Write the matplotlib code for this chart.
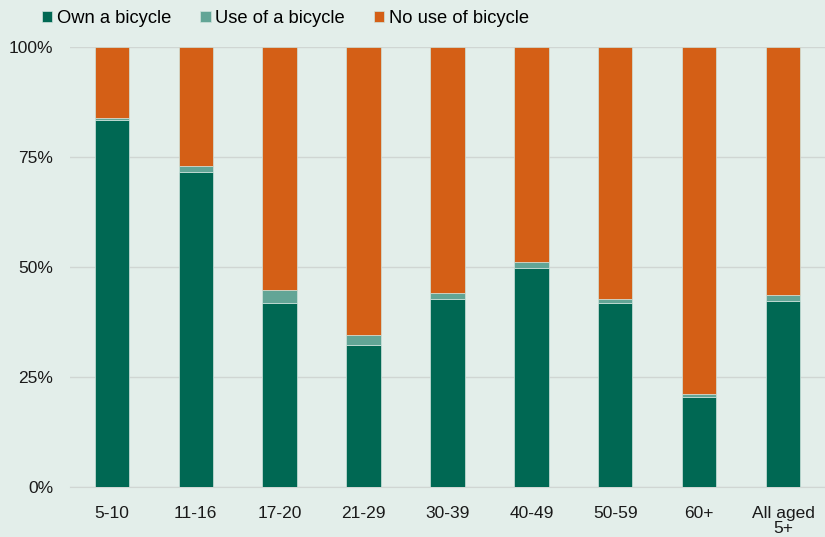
import numpy as np
import matplotlib
matplotlib.use("Agg")
from matplotlib import pyplot as plt
from matplotlib.ticker import PercentFormatter

# share of people by age group (%)
age_groups = ["5-10", "11-16", "17-20", "21-29", "30-39", "40-49", "50-59", "60+", "All aged\n5+"]
own_bicycle = [83.4, 71.6, 41.8, 32.3, 42.7, 49.8, 41.8, 20.5, 42.3]
use_bicycle = [0.5, 1.4, 3.0, 2.3, 1.5, 1.3, 1.0, 0.6, 1.3]
no_use = [100 - o - u for o, u in zip(own_bicycle, use_bicycle)]

bg = "#E3EEEA"
colours = ["#006853", "#62A596", "#D45F16"]
labels = ["Own a bicycle", "Use of a bicycle", "No use of bicycle"]

plt.rcParams["font.family"] = ["Liberation Sans", "DejaVu Sans"]

fig = plt.figure(figsize=(8.25, 5.37), dpi=100, facecolor=bg)
ax = fig.add_axes([0.0848, 0.0931, 0.9152, 0.8194], facecolor=bg)

x = np.arange(len(age_groups))
bottom = np.zeros(len(age_groups))
for vals, col, lab in zip([own_bicycle, use_bicycle, no_use], colours, labels):
    ax.bar(x, vals, width=0.41, bottom=bottom, color=col, label=lab,
           edgecolor="#cfe3dc", linewidth=0.5, zorder=3)
    bottom += np.array(vals)

ax.set_xlim(-0.5, len(age_groups) - 0.5)
ax.set_ylim(0, 100)
ax.set_yticks([0, 25, 50, 75, 100])
ax.yaxis.set_major_formatter(PercentFormatter(decimals=0))
ax.grid(axis="y", color="#d0d6d3", linewidth=1, zorder=0)
ax.set_xticks(x)
ax.set_xticklabels(age_groups, fontsize=12.5, linespacing=1.0)
for t in ax.get_yticklabels():
    t.set_fontsize(12.5)
ax.tick_params(length=0, pad=14, axis="x", colors="#1a1a1a")
ax.tick_params(length=0, pad=12, axis="y", colors="#1a1a1a")
for s in ["left", "right", "top"]:
    ax.spines[s].set_visible(False)
ax.spines["bottom"].set_color("#d0d6d3")

fig.legend(loc="center left", bbox_to_anchor=(0.051, 0.966), ncol=3, frameon=False,
           fontsize=13.2, handlelength=0.55, handleheight=0.55, handletextpad=0.25,
           columnspacing=1.6, borderpad=0, borderaxespad=0)

fig.savefig("out.png", dpi=100, facecolor=bg)
